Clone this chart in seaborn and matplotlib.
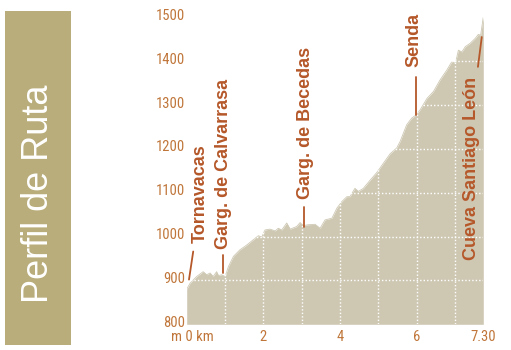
import matplotlib
matplotlib.use("Agg")
import matplotlib.pyplot as plt
import matplotlib.transforms as mtransforms
from matplotlib import font_manager
from matplotlib.patches import Rectangle
import seaborn as sns
import pandas as pd

# ---- data ----
km = [0.00, 0.09, 0.26, 0.43, 0.52, 0.61, 0.69, 0.78, 0.83, 0.91, 1.00, 1.09, 1.22,
      1.39, 1.57, 1.74, 1.87, 1.96, 2.04, 2.17, 2.31, 2.39, 2.48, 2.61, 2.70, 2.87,
      2.96, 3.04, 3.17, 3.35, 3.48, 3.61, 3.79, 3.92, 4.05, 4.18, 4.26, 4.39, 4.48,
      4.61, 4.79, 4.96, 5.13, 5.31, 5.48, 5.57, 5.74, 5.87, 5.98, 6.09, 6.27, 6.44,
      6.61, 6.79, 6.92, 7.01, 7.09, 7.18, 7.27, 7.40, 7.53, 7.61, 7.67, 7.74]
elev = [880, 894, 909, 920, 913, 917, 909, 920, 911, 913, 909, 932, 955,
        970, 981, 993, 1002, 999, 1015, 1017, 1013, 1019, 1015, 1031, 1017, 1023,
        1032, 1025, 1027, 1028, 1019, 1038, 1042, 1065, 1080, 1091, 1091, 1110, 1103,
        1110, 1129, 1146, 1167, 1189, 1202, 1217, 1255, 1270, 1277, 1289, 1315, 1331,
        1357, 1380, 1399, 1395, 1425, 1421, 1433, 1441, 1452, 1461, 1459, 1501]

y_ticks = [800, 900, 1000, 1100, 1200, 1300, 1400, 1500]
x_ticks = [0, 2, 4, 6, 7.74]
x_tick_labels = ["m 0 km", "2", "4", "6", "7.30"]
grid_km = [1, 2, 3, 4, 5, 6, 7]
grid_m = [900, 1000, 1100, 1200, 1300, 1400]

# annotations: label, text x (km), text bottom (m), leader line (km0, m0, km1, m1)
ann_labels = ["Tornavacas", "Garg. de Calvarrasa", "Garg. de Becedas", "Senda", "Cueva Santiago León"]
ann_text_x = [0.35, 0.97, 3.10, 5.93, 7.44]
ann_text_y = [986, 972, 1086, 1387, 947]
ann_line = [(0.06, 902, 0.17, 966), (0.94, 917, 0.94, 958), (3.06, 1022, 3.06, 1068),
            (5.99, 1277, 5.99, 1364), (7.60, 1387, 7.70, 1455)]

df = pd.DataFrame({"km": km, "elev": elev})

# ---- style ----
sns.set_theme(style="white")
plt.rcParams["font.family"] = ["Liberation Sans", "DejaVu Sans"]

TICK_SIZE = 10.5
# find a condensed / narrow font for the tick labels
narrow_fp = None
cands = []
for f in font_manager.fontManager.ttflist:
    n = f.name.lower()
    st = str(f.stretch).lower()
    if f.weight in (400, "normal", "regular") and f.style == "normal":
        if "narrow" in n or "condensed" in n or st in ("condensed", "semi-condensed", "extra-condensed"):
            cands.append(f)
pref = ["liberation sans narrow", "roboto condensed", "open sans condensed", "dejavu sans"]
for p in pref:
    for f in cands:
        if f.name.lower().startswith(p):
            narrow_fp = font_manager.FontProperties(fname=f.fname, size=TICK_SIZE)
            break
    if narrow_fp is not None:
        break
if narrow_fp is None and cands:
    narrow_fp = font_manager.FontProperties(fname=cands[0].fname, size=TICK_SIZE)
if narrow_fp is None:
    narrow_fp = font_manager.FontProperties(family="Liberation Sans", size=9)

fill_c = "#cec8b3"
tick_c = "#c0763a"
ann_c = "#b5582a"
panel_c = "#b9ad7b"

fig = plt.figure(figsize=(5.11, 3.5), dpi=100)
ax = fig.add_axes([186.7 / 511, 25.7 / 350, (483.3 - 186.7) / 511, (332.7 - 25.7) / 350])

sns.lineplot(data=df, x="km", y="elev", ax=ax, color=fill_c, linewidth=0.6, zorder=1)
ax.fill_between(df["km"], df["elev"], 800, color=fill_c, linewidth=0, zorder=1)

for g in grid_km:
    ax.axvline(g, color="white", linestyle=(0, (1, 1.5)), linewidth=1.0, zorder=2)
for g in grid_m:
    ax.axhline(g, color="white", linestyle=(0, (1, 1.5)), linewidth=1.0, zorder=2)

ax.set_xlim(0, 7.74)
ax.set_ylim(800, 1500)
for s in ax.spines.values():
    s.set_visible(False)
ax.set_xlabel("")
ax.set_ylabel("")

ax.set_yticks(y_ticks)
ax.set_yticklabels([str(v) for v in y_ticks], fontproperties=narrow_fp, color=tick_c)
ax.set_xticks(x_ticks)
ax.set_xticklabels(x_tick_labels, fontproperties=narrow_fp, color=tick_c)
ax.tick_params(axis="both", length=0)
ax.tick_params(axis="y", pad=1)
ax.tick_params(axis="x", pad=4)
# shift the "m 0 km" label so that the 0 sits on the origin
lbl0 = ax.get_xticklabels()[0]
lbl0.set_transform(lbl0.get_transform() + mtransforms.ScaledTranslation(6 / 100, 0, fig.dpi_scale_trans))
for lbl in ax.get_yticklabels():
    lbl.set_transform(lbl.get_transform() + mtransforms.ScaledTranslation(0, 3 / 100, fig.dpi_scale_trans))

for lab, tx, ty, (x0, y0, x1, y1) in zip(ann_labels, ann_text_x, ann_text_y, ann_line):
    ax.text(tx, ty, lab, rotation=90, ha="center", va="bottom", color=ann_c,
            fontsize=13, fontweight="bold", zorder=5)
    ax.plot([x0, x1], [y0, y1], color=ann_c, linewidth=1.3, zorder=5, clip_on=False)

# left title panel
fig.patches.append(Rectangle((5 / 511, 5 / 350), 66 / 511, 334 / 350,
                             transform=fig.transFigure, facecolor=panel_c, edgecolor="none"))
fig.text(38.5 / 511, 1 - 194 / 350, "Perfil de Ruta", rotation=90, ha="center", va="center",
         color="white", fontsize=26)

fig.savefig("out.png", dpi=100)
